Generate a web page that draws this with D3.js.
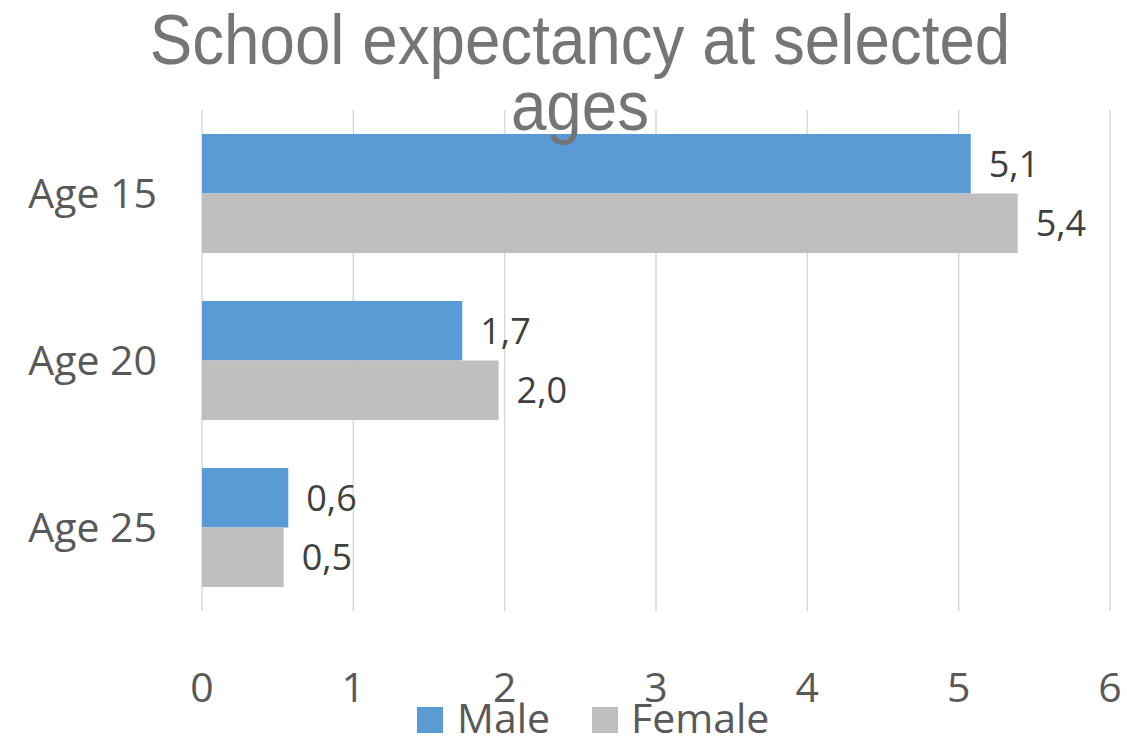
<!DOCTYPE html>
<html>
<head>
<meta charset="utf-8">
<script src="https://cdn.jsdelivr.net/npm/d3@7"></script>
<style>
  html, body { margin: 0; padding: 0; background: #ffffff; }
  svg { display: block; }
</style>
</head>
<body>
<svg id="chart" width="1127" height="737"></svg>
<script>
// Chart data
const categories = ["Age 15", "Age 20", "Age 25"];
const seriesNames = ["Male", "Female"];
const maleValues = [5.08, 1.72, 0.57];
const femaleValues = [5.39, 1.96, 0.54];
const xTicks = [0, 1, 2, 3, 4, 5, 6];
const titleLines = ["School expectancy at selected", "ages"];

const colors = { Male: "#5b9bd5", Female: "#bfbfbf" };
const seriesValues = { Male: maleValues, Female: femaleValues };

const svg = d3.select("#chart");
const plot = { left: 202, right: 1110, top: 110, bottom: 611 };

const x = d3.scaleLinear().domain([0, 6]).range([plot.left, plot.right]);
const y = d3.scaleBand().domain(categories).range([plot.top, plot.bottom])
  .paddingInner(0.287).paddingOuter(0.1435);
const ySub = d3.scaleBand().domain(seriesNames).range([0, y.bandwidth()]).padding(0);

const fmt = v => d3.format(".1f")(v).replace(".", ",");
const labelFont = "'Open Sans', 'Noto Sans', sans-serif";

// Vertical gridlines
svg.append("g").selectAll("line").data(xTicks).join("line")
  .attr("x1", d => x(d)).attr("x2", d => x(d))
  .attr("y1", plot.top).attr("y2", plot.bottom)
  .attr("stroke", "#d9d9d9").attr("stroke-width", 1.5);

// Bars
const rows = categories.map((c, i) => ({ cat: c, items: seriesNames.map(s => ({ s, v: seriesValues[s][i] })) }));
const groups = svg.append("g").selectAll("g").data(rows).join("g")
  .attr("transform", d => `translate(0,${y(d.cat)})`);

groups.selectAll("rect").data(d => d.items).join("rect")
  .attr("x", x(0))
  .attr("y", d => ySub(d.s))
  .attr("width", d => x(d.v) - x(0))
  .attr("height", ySub.bandwidth())
  .attr("fill", d => colors[d.s]);

// Value labels
groups.selectAll("text").data(d => d.items).join("text")
  .attr("x", d => x(d.v) + 18)
  .attr("y", d => ySub(d.s) + ySub.bandwidth() / 2 + 13)
  .attr("font-family", labelFont)
  .attr("font-size", 36)
  .attr("fill", "#404040")
  .text(d => fmt(d.v));

// Category axis labels
svg.append("g").selectAll("text").data(categories).join("text")
  .attr("x", 157)
  .attr("y", d => y(d) + y.bandwidth() / 2 + 14)
  .attr("text-anchor", "end")
  .attr("font-family", labelFont)
  .attr("font-size", 41)
  .attr("fill", "#595959")
  .text(d => d);

// Value axis tick labels
svg.append("g").selectAll("text").data(xTicks).join("text")
  .attr("x", d => x(d))
  .attr("y", 702)
  .attr("text-anchor", "middle")
  .attr("font-family", labelFont)
  .attr("font-size", 41)
  .attr("fill", "#595959")
  .text(d => d);

// Legend
const legendItems = [
  { name: "Male", sx: 417, tx: 457 },
  { name: "Female", sx: 592, tx: 631 }
];
const legend = svg.append("g");
legend.selectAll("rect").data(legendItems).join("rect")
  .attr("x", d => d.sx).attr("y", 707)
  .attr("width", 26).attr("height", 26)
  .attr("fill", d => colors[d.name]);
legend.selectAll("text").data(legendItems).join("text")
  .attr("x", d => d.tx).attr("y", 733)
  .attr("font-family", labelFont)
  .attr("font-size", 41)
  .attr("fill", "#595959")
  .text(d => d.name);

// Title (two lines, overlapping the plot top)
const title = svg.append("g");
title.selectAll("text").data(titleLines).join("text")
  .attr("x", 580)
  .attr("y", (d, i) => 64 + i * 66)
  .attr("text-anchor", "middle")
  .attr("font-family", "'Liberation Sans', Arial, sans-serif")
  .attr("font-size", 70)
  .attr("fill", "#757575")
  .text(d => d)
  .each(function () {
    const w = this.getComputedTextLength();
    d3.select(this).attr("textLength", w * 0.91).attr("lengthAdjust", "spacingAndGlyphs");
  });
</script>
</body>
</html>
